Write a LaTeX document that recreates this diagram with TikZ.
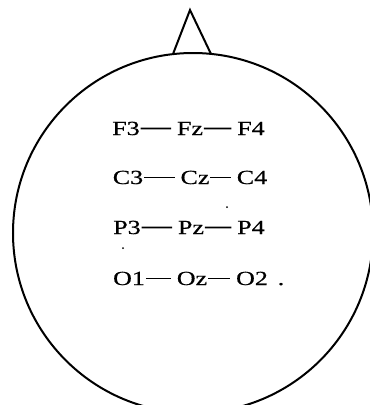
\documentclass[tikz,border=0pt]{standalone}
\usepackage{fontspec}
\newfontfamily\eegfont[FakeStretch=1.3, FakeBold=0.6]{Liberation Serif}
\tikzset{
  every picture/.style={line width=1.8pt},
  head/.style={draw=black, line width=2pt},
  elec/.style={inner sep=0pt, anchor=base, font=\eegfont\fontsize{20pt}{20pt}\selectfont},
  wire/.style={draw=black, line width=1.8pt, shorten >=5pt},
}

\begin{document}
\begin{tikzpicture}[x=1pt, y=-1pt]
  \clip (0,0) rectangle (370,405);

  % head and nose
  \draw[head] (193,233) circle (180pt);
  \draw[head, line join=miter] (173,54) -- (190,10) -- (211,54);

  % electrodes
  \node[elec] (F3) at (126,135) {F3};
  \node[elec] (Fz) at (190,135) {Fz};
  \node[elec] (F4) at (251,135) {F4};
  \node[elec] (C3) at (128,184) {C3};
  \node[elec] (Cz) at (195,184) {Cz};
  \node[elec] (C4) at (252,184) {C4};
  \node[elec] (P3) at (127,234) {P3};
  \node[elec] (Pz) at (191,234) {Pz};
  \node[elec] (P4) at (251,234) {P4};
  \node[elec] (O1) at (129,285) {O1};
  \node[elec] (Oz) at (192,285) {Oz};
  \node[elec] (O2) at (252,285) {O2};
  \node[elec] (stop) at (281,285) {.};

  \foreach \a/\b in {F3/Fz, Fz/F4, C3/Cz, Cz/C4, P3/Pz, Pz/P4, O1/Oz, Oz/O2}
    \draw[wire] (\a.east) -- (\b.west);

  % stray specks
  \fill (227,207) circle (1pt);
  \fill (123,248) circle (1pt);
\end{tikzpicture}
\end{document}
